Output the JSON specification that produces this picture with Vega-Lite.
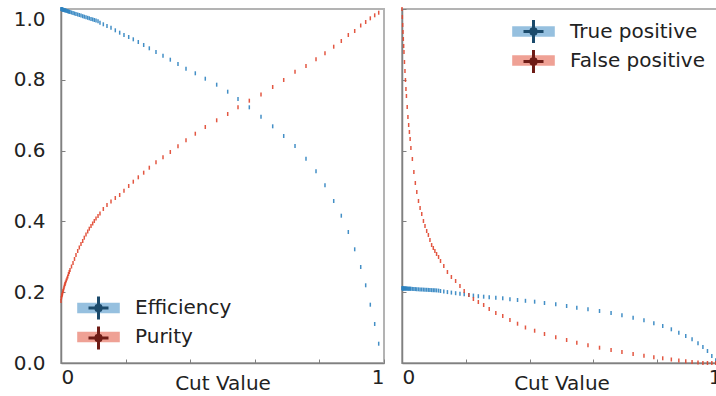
{
  "$schema": "https://vega.github.io/schema/vega-lite/v6.json",
  "padding": {"left": 12, "top": 6, "right": 0, "bottom": 0},
  "spacing": 14,
  "data": {"values": [
    {"cut": 0, "Efficiency": 1.0, "Purity": 0.1751, "True positive": 0.2110, "False positive": 1.0},
    {"cut": 0.0010, "Efficiency": 0.9997, "Purity": 0.1836, "True positive": 0.2110, "False positive": 0.9774},
    {"cut": 0.0021, "Efficiency": 0.9994, "Purity": 0.1879, "True positive": 0.2110, "False positive": 0.9548},
    {"cut": 0.0031, "Efficiency": 0.9992, "Purity": 0.1921, "True positive": 0.2107, "False positive": 0.9350},
    {"cut": 0.0041, "Efficiency": 0.9989, "Purity": 0.1949, "True positive": 0.2107, "False positive": 0.9153},
    {"cut": 0.0052, "Efficiency": 0.9983, "Purity": 0.1992, "True positive": 0.2107, "False positive": 0.8955},
    {"cut": 0.0062, "Efficiency": 0.9980, "Purity": 0.2034, "True positive": 0.2107, "False positive": 0.8785},
    {"cut": 0.0077, "Efficiency": 0.9977, "Purity": 0.2076, "True positive": 0.2105, "False positive": 0.8503},
    {"cut": 0.0093, "Efficiency": 0.9972, "Purity": 0.2133, "True positive": 0.2105, "False positive": 0.8249},
    {"cut": 0.0108, "Efficiency": 0.9966, "Purity": 0.2189, "True positive": 0.2105, "False positive": 0.7994},
    {"cut": 0.0124, "Efficiency": 0.9963, "Purity": 0.2232, "True positive": 0.2105, "False positive": 0.7740},
    {"cut": 0.0139, "Efficiency": 0.9958, "Purity": 0.2274, "True positive": 0.2102, "False positive": 0.7542},
    {"cut": 0.0163, "Efficiency": 0.9952, "Purity": 0.2331, "True positive": 0.2102, "False positive": 0.7232},
    {"cut": 0.0186, "Efficiency": 0.9944, "Purity": 0.2387, "True positive": 0.2099, "False positive": 0.6949},
    {"cut": 0.0209, "Efficiency": 0.9938, "Purity": 0.2444, "True positive": 0.2099, "False positive": 0.6723},
    {"cut": 0.0232, "Efficiency": 0.9929, "Purity": 0.2514, "True positive": 0.2099, "False positive": 0.6525},
    {"cut": 0.0255, "Efficiency": 0.9924, "Purity": 0.2571, "True positive": 0.2096, "False positive": 0.6328},
    {"cut": 0.0279, "Efficiency": 0.9915, "Purity": 0.2627, "True positive": 0.2096, "False positive": 0.6073},
    {"cut": 0.0325, "Efficiency": 0.9901, "Purity": 0.2726, "True positive": 0.2093, "False positive": 0.5763},
    {"cut": 0.0372, "Efficiency": 0.9887, "Purity": 0.2825, "True positive": 0.2090, "False positive": 0.5395},
    {"cut": 0.0418, "Efficiency": 0.9873, "Purity": 0.2938, "True positive": 0.2088, "False positive": 0.5085},
    {"cut": 0.0464, "Efficiency": 0.9859, "Purity": 0.3051, "True positive": 0.2085, "False positive": 0.4831},
    {"cut": 0.0517, "Efficiency": 0.9845, "Purity": 0.3164, "True positive": 0.2082, "False positive": 0.4576},
    {"cut": 0.0567, "Efficiency": 0.9831, "Purity": 0.3263, "True positive": 0.2079, "False positive": 0.4379},
    {"cut": 0.0619, "Efficiency": 0.9814, "Purity": 0.3362, "True positive": 0.2076, "False positive": 0.4209},
    {"cut": 0.0672, "Efficiency": 0.9797, "Purity": 0.3446, "True positive": 0.2073, "False positive": 0.4011},
    {"cut": 0.0721, "Efficiency": 0.9782, "Purity": 0.3540, "True positive": 0.2071, "False positive": 0.3870},
    {"cut": 0.0774, "Efficiency": 0.9765, "Purity": 0.3630, "True positive": 0.2068, "False positive": 0.3729},
    {"cut": 0.0827, "Efficiency": 0.9751, "Purity": 0.3715, "True positive": 0.2065, "False positive": 0.3616},
    {"cut": 0.0876, "Efficiency": 0.9737, "Purity": 0.3794, "True positive": 0.2062, "False positive": 0.3475},
    {"cut": 0.0929, "Efficiency": 0.9720, "Purity": 0.3870, "True positive": 0.2059, "False positive": 0.3333},
    {"cut": 0.0981, "Efficiency": 0.9706, "Purity": 0.3941, "True positive": 0.2056, "False positive": 0.3249},
    {"cut": 0.1031, "Efficiency": 0.9689, "Purity": 0.4011, "True positive": 0.2054, "False positive": 0.3164},
    {"cut": 0.1084, "Efficiency": 0.9675, "Purity": 0.4082, "True positive": 0.2051, "False positive": 0.3079},
    {"cut": 0.1146, "Efficiency": 0.9655, "Purity": 0.4153, "True positive": 0.2045, "False positive": 0.2994},
    {"cut": 0.1207, "Efficiency": 0.9613, "Purity": 0.4223, "True positive": 0.2034, "False positive": 0.2881},
    {"cut": 0.1310, "Efficiency": 0.9568, "Purity": 0.4350, "True positive": 0.2017, "False positive": 0.2740},
    {"cut": 0.1424, "Efficiency": 0.9520, "Purity": 0.4463, "True positive": 0.2003, "False positive": 0.2571},
    {"cut": 0.1548, "Efficiency": 0.9472, "Purity": 0.4562, "True positive": 0.1989, "False positive": 0.2429},
    {"cut": 0.1681, "Efficiency": 0.9398, "Purity": 0.4661, "True positive": 0.1972, "False positive": 0.2316},
    {"cut": 0.1817, "Efficiency": 0.9331, "Purity": 0.4746, "True positive": 0.1955, "False positive": 0.2175},
    {"cut": 0.1950, "Efficiency": 0.9266, "Purity": 0.4867, "True positive": 0.1941, "False positive": 0.2034},
    {"cut": 0.2096, "Efficiency": 0.9209, "Purity": 0.5000, "True positive": 0.1921, "False positive": 0.1921},
    {"cut": 0.2238, "Efficiency": 0.9144, "Purity": 0.5121, "True positive": 0.1904, "False positive": 0.1808},
    {"cut": 0.2393, "Efficiency": 0.9068, "Purity": 0.5246, "True positive": 0.1887, "False positive": 0.1723},
    {"cut": 0.2560, "Efficiency": 0.8983, "Purity": 0.5376, "True positive": 0.1873, "False positive": 0.1638},
    {"cut": 0.2734, "Efficiency": 0.8890, "Purity": 0.5517, "True positive": 0.1859, "False positive": 0.1525},
    {"cut": 0.2941, "Efficiency": 0.8785, "Purity": 0.5669, "True positive": 0.1842, "False positive": 0.1412},
    {"cut": 0.3158, "Efficiency": 0.8681, "Purity": 0.5811, "True positive": 0.1828, "False positive": 0.1328},
    {"cut": 0.3384, "Efficiency": 0.8568, "Purity": 0.5960, "True positive": 0.1802, "False positive": 0.1215},
    {"cut": 0.3622, "Efficiency": 0.8446, "Purity": 0.6121, "True positive": 0.1780, "False positive": 0.1110},
    {"cut": 0.3870, "Efficiency": 0.8314, "Purity": 0.6291, "True positive": 0.1757, "False positive": 0.1003},
    {"cut": 0.4158, "Efficiency": 0.8184, "Purity": 0.6477, "True positive": 0.1732, "False positive": 0.0912},
    {"cut": 0.4467, "Efficiency": 0.8031, "Purity": 0.6667, "True positive": 0.1695, "False positive": 0.0819},
    {"cut": 0.4820, "Efficiency": 0.7862, "Purity": 0.6856, "True positive": 0.1658, "False positive": 0.0726},
    {"cut": 0.5161, "Efficiency": 0.7664, "Purity": 0.7034, "True positive": 0.1610, "False positive": 0.0650},
    {"cut": 0.5480, "Efficiency": 0.7458, "Purity": 0.7223, "True positive": 0.1562, "False positive": 0.0573},
    {"cut": 0.5830, "Efficiency": 0.7223, "Purity": 0.7410, "True positive": 0.1517, "False positive": 0.0500},
    {"cut": 0.6192, "Efficiency": 0.6958, "Purity": 0.7585, "True positive": 0.1469, "False positive": 0.0432},
    {"cut": 0.6554, "Efficiency": 0.6686, "Purity": 0.7797, "True positive": 0.1412, "False positive": 0.0367},
    {"cut": 0.6895, "Efficiency": 0.6412, "Purity": 0.7994, "True positive": 0.1347, "False positive": 0.0311},
    {"cut": 0.7245, "Efficiency": 0.6130, "Purity": 0.8229, "True positive": 0.1280, "False positive": 0.0254},
    {"cut": 0.7585, "Efficiency": 0.5771, "Purity": 0.8390, "True positive": 0.1206, "False positive": 0.0206},
    {"cut": 0.7895, "Efficiency": 0.5415, "Purity": 0.8579, "True positive": 0.1121, "False positive": 0.0161},
    {"cut": 0.8173, "Efficiency": 0.5020, "Purity": 0.8749, "True positive": 0.1045, "False positive": 0.0133},
    {"cut": 0.8443, "Efficiency": 0.4576, "Purity": 0.8935, "True positive": 0.0952, "False positive": 0.0099},
    {"cut": 0.8678, "Efficiency": 0.4161, "Purity": 0.9096, "True positive": 0.0856, "False positive": 0.0071},
    {"cut": 0.8895, "Efficiency": 0.3701, "Purity": 0.9266, "True positive": 0.0763, "False positive": 0.0048},
    {"cut": 0.9093, "Efficiency": 0.3212, "Purity": 0.9379, "True positive": 0.0669, "False positive": 0.0028},
    {"cut": 0.9279, "Efficiency": 0.2712, "Purity": 0.9534, "True positive": 0.0556, "False positive": 0.0014},
    {"cut": 0.9433, "Efficiency": 0.2195, "Purity": 0.9633, "True positive": 0.0452, "False positive": 0.0},
    {"cut": 0.9576, "Efficiency": 0.1647, "Purity": 0.9737, "True positive": 0.0339, "False positive": 0.0},
    {"cut": 0.9712, "Efficiency": 0.1102, "Purity": 0.9822, "True positive": 0.0198, "False positive": 0.0},
    {"cut": 0.9836, "Efficiency": 0.0545, "Purity": 0.9895, "True positive": 0.0076, "False positive": 0.0}
  ]},
  "config": {
    "font": "DejaVu Sans",
    "view": {"stroke": "#b3b3b3", "strokeWidth": 2},
    "axis": {
      "grid": false,
      "domainColor": "#808080", "domainWidth": 1.5,
      "tickColor": "#808080", "tickWidth": 1, "tickSize": -4,
      "labelFont": "DejaVu Sans", "labelFontSize": 20, "labelColor": "#222222",
      "titleFont": "DejaVu Sans", "titleFontSize": 20, "titleFontWeight": "normal", "titleColor": "#222222"
    },
    "legend": {"labelFont": "DejaVu Sans", "labelFontSize": 20, "labelColor": "#222222", "labelLimit": 0}
  },
  "resolve": {
    "scale": {"color": "independent", "fill": "independent", "x": "independent", "y": "independent"},
    "legend": {"color": "independent", "fill": "independent"}
  },
  "hconcat": [
    {
      "width": 323, "height": 354,
      "transform": [{"fold": ["Efficiency", "Purity"], "as": ["series", "value"]}],
      "layer": [
        {
          "mark": {"type": "tick", "orient": "vertical", "size": 4, "thickness": 1.5, "opacity": 0.9},
          "encoding": {
            "x": {"field": "cut", "type": "quantitative", "scale": {"domain": [0, 1], "nice": false},
              "axis": {"title": "Cut Value", "values": [0,0.05,0.1,0.15,0.2,0.25,0.3,0.35,0.4,0.45,0.5,0.55,0.6,0.65,0.7,0.75,0.8,0.85,0.9,0.95,1],
                "labelExpr": "datum.value == 0 ? '0' : (datum.value == 1 ? '1' : '')", "labelFlush": true, "labelPadding": 8, "titlePadding": -14}},
            "y": {"field": "value", "type": "quantitative", "scale": {"domain": [0, 1], "nice": false},
              "axis": {"title": null, "values": [0,0.05,0.1,0.15,0.2,0.25,0.3,0.35,0.4,0.45,0.5,0.55,0.6,0.65,0.7,0.75,0.8,0.85,0.9,0.95,1],
                "labelExpr": "abs(datum.value*5 - round(datum.value*5)) < 0.001 ? format(datum.value, '.1f') : ''",
                "labelFlush": false, "labelPadding": 20,
                "labelBaseline": {"condition": {"test": "datum.value == 1", "value": "top"}, "value": "middle"}}},
            "color": {"field": "series", "type": "nominal",
              "scale": {"domain": ["Efficiency", "Purity"], "range": ["#2f83c0", "#e0452e"]},
              "legend": {"title": null, "orient": "none", "legendX": 26, "legendY": 287.5, "padding": 0,
                "symbolType": "M-2.13,-0.52H2.13V0.52H-2.13Z", "symbolSize": 400, "symbolStrokeWidth": 3,
                "symbolStrokeColor": "transparent", "labelOffset": 25, "rowPadding": 6, "symbolOpacity": 0.5}}
          }
        },
        {
          "mark": {"type": "point", "filled": true, "size": 0, "opacity": 0},
          "encoding": {
            "x": {"field": "cut", "type": "quantitative"},
            "y": {"field": "value", "type": "quantitative"},
            "fill": {"field": "series", "type": "nominal",
              "scale": {"domain": ["Efficiency", "Purity", "-"], "range": ["#2f83c0", "#e0452e", "#000000"]},
              "legend": {"title": null, "orient": "none", "legendX": 26, "legendY": 287.5, "padding": 0,
                "values": ["Efficiency", "Purity"],
                "symbolType": "M-1,0H1M0,-1.15V1.15M0.3,0L0.21,0.21L0,0.3L-0.21,0.21L-0.3,0L-0.21,-0.21L0,-0.3L0.21,-0.21Z", "symbolSize": 400, "symbolStrokeWidth": 3,
                "labelOffset": 25, "rowPadding": -5, "symbolOpacity": 1, "labelExpr": "''",
                "encode": {"symbols": {"update": {
                  "stroke": {"signal": "datum.value === 'Efficiency' ? '#1b4a6b' : '#6e1c16'"},
                  "strokeWidth": {"value": 3}, "opacity": {"value": 1}}}}}}
          }
        }
      ]
    },
    {
      "width": 319, "height": 354,
      "transform": [{"fold": ["True positive", "False positive"], "as": ["series", "value"]}],
      "layer": [
        {
          "mark": {"type": "tick", "orient": "vertical", "size": 4, "thickness": 1.5, "opacity": 0.9},
          "encoding": {
            "x": {"field": "cut", "type": "quantitative", "scale": {"domain": [0, 1], "nice": false},
              "axis": {"title": "Cut Value", "values": [0,0.05,0.1,0.15,0.2,0.25,0.3,0.35,0.4,0.45,0.5,0.55,0.6,0.65,0.7,0.75,0.8,0.85,0.9,0.95,1],
                "labelExpr": "datum.value == 0 ? '0' : (datum.value == 1 ? '1' : '')", "labelFlush": true, "labelPadding": 8, "titlePadding": -14}},
            "y": {"field": "value", "type": "quantitative", "scale": {"domain": [0, 1], "nice": false},
              "axis": {"title": null, "labels": false, "minExtent": 0,
                "values": [0,0.05,0.1,0.15,0.2,0.25,0.3,0.35,0.4,0.45,0.5,0.55,0.6,0.65,0.7,0.75,0.8,0.85,0.9,0.95,1]}},
            "color": {"field": "series", "type": "nominal",
              "scale": {"domain": ["True positive", "False positive"], "range": ["#2f83c0", "#e0452e"]},
              "legend": {"title": null, "orient": "none", "legendX": 120, "legendY": 11, "padding": 0,
                "symbolType": "M-2.13,-0.52H2.13V0.52H-2.13Z", "symbolSize": 400, "symbolStrokeWidth": 3,
                "symbolStrokeColor": "transparent", "labelOffset": 25, "rowPadding": 6, "symbolOpacity": 0.5}}
          }
        },
        {
          "mark": {"type": "point", "filled": true, "size": 0, "opacity": 0},
          "encoding": {
            "x": {"field": "cut", "type": "quantitative"},
            "y": {"field": "value", "type": "quantitative"},
            "fill": {"field": "series", "type": "nominal",
              "scale": {"domain": ["True positive", "False positive", "-"], "range": ["#2f83c0", "#e0452e", "#000000"]},
              "legend": {"title": null, "orient": "none", "legendX": 120, "legendY": 11, "padding": 0,
                "values": ["True positive", "False positive"],
                "symbolType": "M-1,0H1M0,-1.15V1.15M0.3,0L0.21,0.21L0,0.3L-0.21,0.21L-0.3,0L-0.21,-0.21L0,-0.3L0.21,-0.21Z", "symbolSize": 400, "symbolStrokeWidth": 3,
                "labelOffset": 25, "rowPadding": -5, "symbolOpacity": 1, "labelExpr": "''",
                "encode": {"symbols": {"update": {
                  "stroke": {"signal": "datum.value === 'True positive' ? '#1b4a6b' : '#6e1c16'"},
                  "strokeWidth": {"value": 3}, "opacity": {"value": 1}}}}}}
          }
        }
      ]
    }
  ]
}
